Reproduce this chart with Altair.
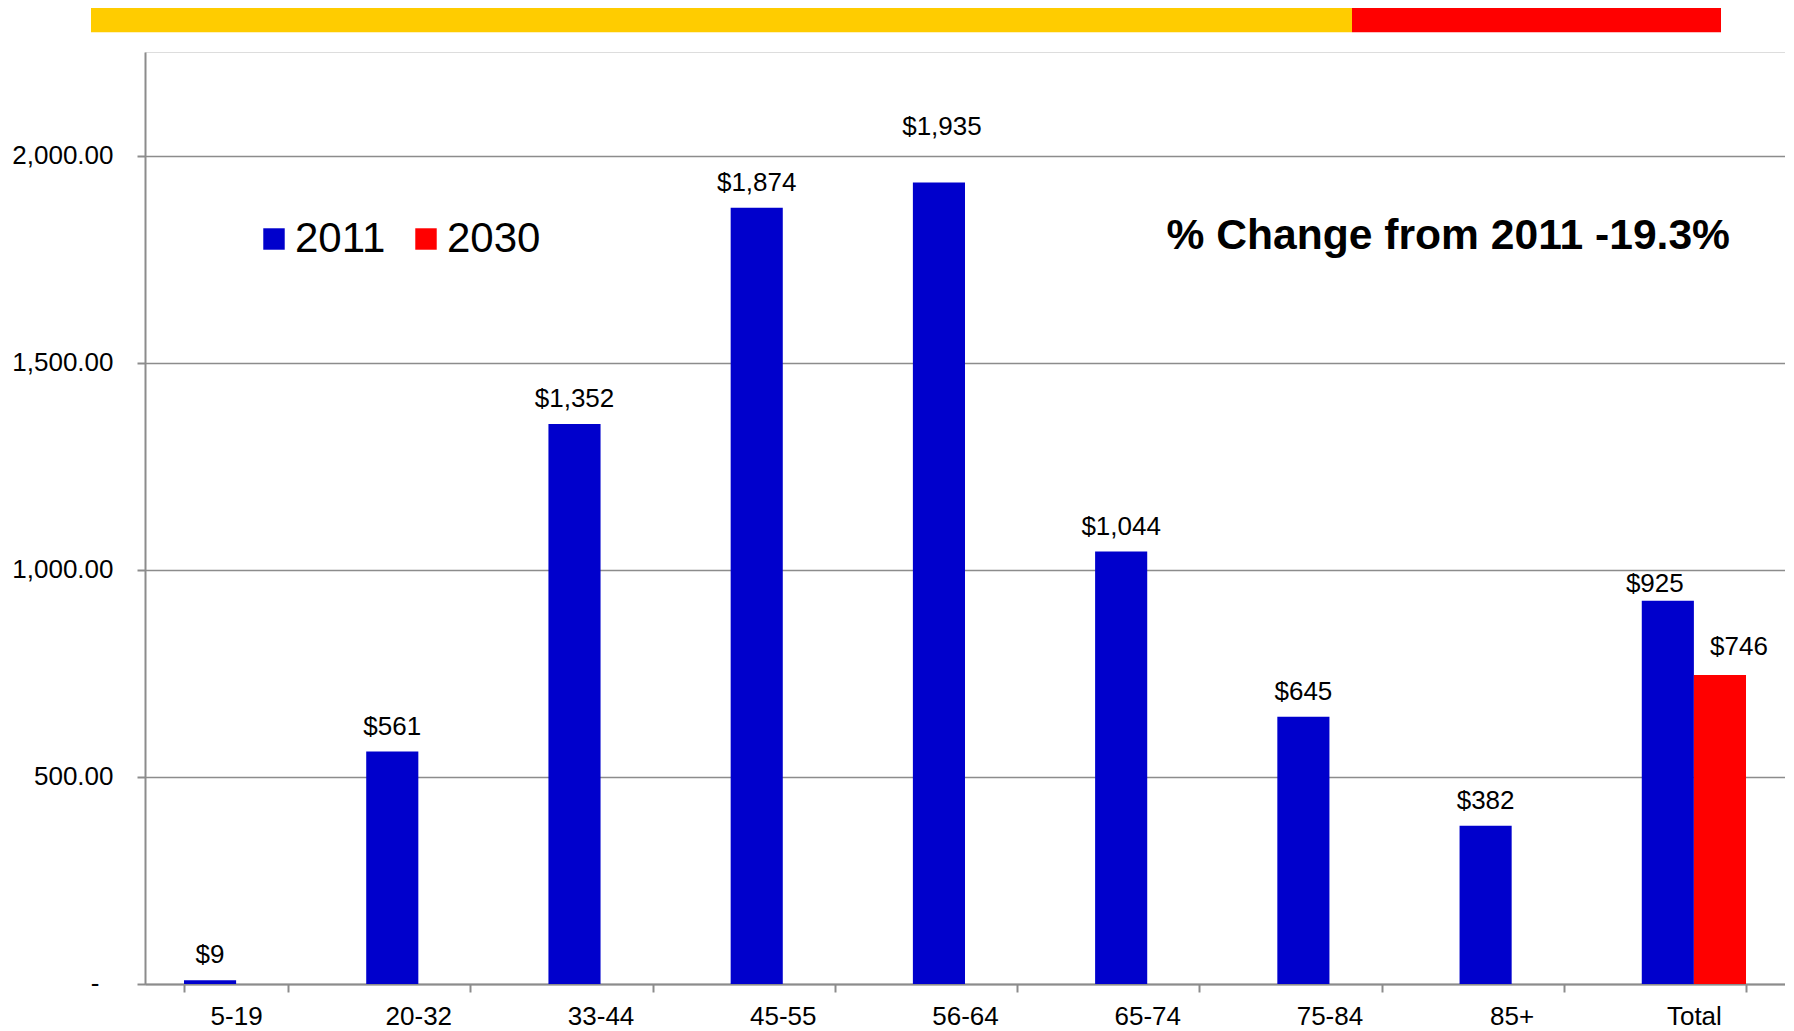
import altair as alt
import pandas as pd

categories = ["5-19", "20-32", "33-44", "45-55", "56-64", "65-74", "75-84", "85+", "Total"]
values_2011 = [9, 561, 1352, 1874, 1935, 1044, 645, 382, 925]
total_2030 = 746
years = ["2011", "2030"]
y_ticks = [0, 500, 1000, 1500, 2000]
zero_label = "-"
annotation = "% Change from 2011 -19.3%"

rows = [{"cat": c, "year": "2011", "value": v} for c, v in zip(categories, values_2011)]
rows.append({"cat": "Total", "year": "2030", "value": total_2030})
df = pd.DataFrame(rows)

W, H = 1640, 932
FONT = "Liberation Sans"
GRAY = "#8c8c8c"

x = alt.X(
    "cat:N", sort=categories,
    scale=alt.Scale(paddingInner=0.428, paddingOuter=0.214),
    axis=alt.Axis(title=None, labelAngle=0, labelFontSize=26, labelColor="black", labelFont=FONT,
                  tickBand="extent", tickSize=8, tickColor=GRAY, tickWidth=2,
                  domainColor=GRAY, domainWidth=2, labelPadding=11, grid=False),
)
xo = alt.XOffset("year:N", scale=alt.Scale(domain=years, paddingInner=0, paddingOuter=0))
y = alt.Y(
    "value:Q",
    scale=alt.Scale(domain=[0, 2250], nice=False),
    axis=alt.Axis(title=None, values=y_ticks,
                  labelExpr="datum.value == 0 ? '' : format(datum.value, ',.2f')",
                  labelFontSize=26, labelFont=FONT, labelColor="black",
                  tickSize=8, tickColor=GRAY, tickWidth=2,
                  domainColor=GRAY, domainWidth=2, gridColor=GRAY, gridWidth=1.5,
                  labelPadding=24),
)
color = alt.Color(
    "year:N",
    scale=alt.Scale(domain=years, range=["#0000CC", "#FF0000"]),
    legend=alt.Legend(title=None, orient="none", legendX=108, legendY=166, direction="horizontal",
                      symbolType="square", symbolSize=460, symbolStrokeWidth=0, symbolOpacity=1,
                      labelFontSize=42, labelFont=FONT, labelColor="black", labelOffset=0,
                      columnPadding=19),
)

bars = alt.Chart(df).mark_bar(opacity=1).encode(x=x, xOffset=xo, y=y, color=color)

base_text = alt.Chart(df).encode(x=x, xOffset=xo, y=y, text=alt.Text("value:Q", format="$,.0f"))
labels = base_text.transform_filter(
    "datum.value != 1935 && datum.value != 925 && datum.value != 746"
).mark_text(font=FONT, fontSize=26, baseline="middle", dy=-25, color="black")
lab_1935 = base_text.transform_filter("datum.value == 1935").mark_text(
    font=FONT, fontSize=26, baseline="middle", dy=-55, dx=3, color="black")
lab_925 = base_text.transform_filter("datum.value == 925").mark_text(
    font=FONT, fontSize=26, baseline="middle", dy=-17, dx=-13, color="black")
lab_746 = base_text.transform_filter("datum.value == 746").mark_text(
    font=FONT, fontSize=26, baseline="middle", dy=-28, dx=19, color="black")

zero = alt.Chart(pd.DataFrame({"value": [0], "t": [zero_label]})).mark_text(
    font=FONT, fontSize=26, baseline="middle", align="center", color="black"
).encode(x=alt.value(-50), y=alt.Y("value:Q"), text="t:N")

dummy = pd.DataFrame({"a": [0]})
bar_yellow = alt.Chart(dummy).mark_rect(color="#FFCC00").encode(
    x=alt.value(-54), x2=alt.value(1207), y=alt.value(-46.3), y2=alt.value(-19.7))
bar_red = alt.Chart(dummy).mark_rect(color="#FF0000").encode(
    x=alt.value(1207), x2=alt.value(1576), y=alt.value(-46.3), y2=alt.value(-19.7))

note = alt.Chart(pd.DataFrame({"t": [annotation]})).mark_text(
    font=FONT, fontSize=42.6, fontWeight="bold", align="right", baseline="middle", color="black"
).encode(x=alt.value(1585), y=alt.value(184), text="t:N")

chart = alt.layer(bars, labels, lab_1935, lab_925, lab_746, zero, bar_yellow, bar_red, note).properties(
    width=W, height=H,
    padding={"left": 137, "top": 44, "right": 0, "bottom": 50},
    autosize=alt.AutoSizeParams(type="none"),
).configure_view(stroke=None).configure(background="white")

chart.save("out.html", embed_options={"renderer": "svg", "actions": False})
